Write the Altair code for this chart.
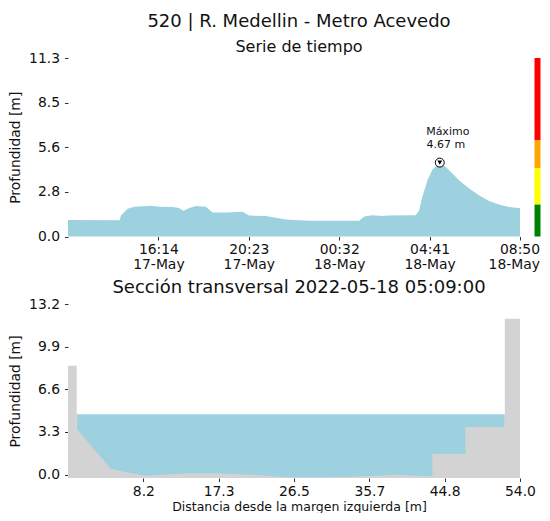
import altair as alt
import pandas as pd

# ---------------- texts ----------------
station_title = "520 | R. Medellin - Metro Acevedo"
top_title = "Serie de tiempo"
bottom_title = "Sección transversal 2022-05-18 05:09:00"
y_title = "Profundidad [m]"
x_bottom_title = "Distancia desde la margen izquierda [m]"

# ---------------- time series ----------------
times = [
    "2022-05-17T12:05:00Z", "2022-05-17T14:27:00Z", "2022-05-17T14:31:00Z", "2022-05-17T14:49:00Z",
    "2022-05-17T15:08:00Z", "2022-05-17T15:54:00Z", "2022-05-17T16:17:00Z", "2022-05-17T16:53:00Z",
    "2022-05-17T17:10:00Z", "2022-05-17T17:23:00Z", "2022-05-17T17:39:00Z", "2022-05-17T17:58:00Z",
    "2022-05-17T18:25:00Z", "2022-05-17T18:43:00Z", "2022-05-17T19:20:00Z", "2022-05-17T20:06:00Z",
    "2022-05-17T20:24:00Z", "2022-05-17T21:10:00Z", "2022-05-17T22:05:00Z", "2022-05-17T23:09:00Z",
    "2022-05-18T01:27:00Z", "2022-05-18T01:41:00Z", "2022-05-18T02:03:00Z", "2022-05-18T02:31:00Z",
    "2022-05-18T02:45:00Z", "2022-05-18T04:03:00Z", "2022-05-18T04:12:00Z", "2022-05-18T04:21:00Z",
    "2022-05-18T04:35:00Z", "2022-05-18T04:49:00Z", "2022-05-18T05:09:00Z", "2022-05-18T05:25:00Z",
    "2022-05-18T05:44:00Z", "2022-05-18T06:02:00Z", "2022-05-18T06:30:00Z", "2022-05-18T06:57:00Z",
    "2022-05-18T07:25:00Z", "2022-05-18T07:52:00Z", "2022-05-18T08:20:00Z", "2022-05-18T08:50:00Z",
]
levels = [
    1.05, 1.03, 1.33, 1.76,
    1.88, 1.95, 1.88, 1.86,
    1.80, 1.63, 1.80, 1.93,
    1.88, 1.52, 1.52, 1.56,
    1.33, 1.29, 1.08, 1.00,
    0.99, 1.27, 1.35, 1.29,
    1.33, 1.35, 1.65, 2.50,
    3.56, 4.23, 4.67, 4.40,
    3.98, 3.56, 3.03, 2.60,
    2.24, 2.03, 1.86, 1.78,
]
max_time = "2022-05-18T05:09:00Z"
max_level = 4.67
max_label = "Máximo"

time_domain = ["2022-05-17T12:05:00Z", "2022-05-18T08:50:00Z"]
time_ticks = ["2022-05-17T16:14:00Z", "2022-05-17T20:23:00Z", "2022-05-18T00:32:00Z",
              "2022-05-18T04:41:00Z", "2022-05-18T08:50:00Z"]
top_ymax = 11.28
top_yticks = [0.0, 2.82, 5.64, 8.46, 11.28]

# alert levels (colour bar)
alert_low = [0.0, 2.03, 4.32, 6.09]
alert_high = [2.03, 4.32, 6.09, 11.28]
alert_colors = ["#008000", "#ffff00", "#ffa500", "#ff0000"]

# ---------------- cross section ----------------
section_x = [-1.0, 0.06, 0.06, 4.2, 5.2, 8.3, 13.4, 17.4, 21.5, 25.5, 29.6, 35.7, 39.0, 41.8,
             43.35, 43.35, 47.35, 47.35, 52.15, 52.15, 54.0]
section_ground = [8.42, 8.42, 3.55, 0.46, 0.31, -0.08, 0.08, 0.08, 0.0, -0.21, -0.21, -0.13, 0.0, -0.10,
                  -0.13, 1.59, 1.59, 3.68, 3.68, 12.06, 12.06]
water_level = 4.67
water_start = 0.06
water_end = 52.15
section_floor = -0.26
bottom_ymax = 13.2
bottom_yticks = [0.0, 3.3, 6.6, 9.9, 13.2]
dist_domain = [-1.0, 54.0]
dist_ticks = [8.17, 17.33, 26.5, 35.67, 44.83, 54.0]

# ---------------- styling ----------------
FONT = "DejaVu Sans"
WATER = "#9dd1e0"
GROUND = "#d3d3d3"
TXT = "#111111"
W = 452

def ms(s):
    return int(pd.Timestamp(s).value // 10**6)

ts_df = pd.DataFrame({"time": times, "level": levels})
max_df = pd.DataFrame({"time": [max_time], "level": [max_level],
                       "name": [max_label], "value": [f"{max_level:.2f} m"]})
alert_df = pd.DataFrame({"lo": alert_low, "hi": alert_high, "color": alert_colors})

x_time = alt.X("time:T",
               scale=alt.Scale(type="utc", domain=[ms(t) for t in time_domain], nice=False),
               axis=alt.Axis(values=[ms(t) for t in time_ticks], title=None,
                             labelFlush=True, labelFlushOffset=19.5,
                             labelExpr="[utcFormat(datum.value, '%H:%M'), utcFormat(datum.value, '%d-%b')]",
                             labelLineHeight=15.5, labelPadding=2))
y_top = alt.Y("level:Q", scale=alt.Scale(domain=[0, top_ymax], nice=False, zero=True),
              axis=alt.Axis(values=top_yticks, format=".1f", title=y_title, titlePadding=6, labelFlush=False))

area = alt.Chart(ts_df).mark_area(color=WATER, opacity=1).encode(x=x_time, y=y_top)

cbar = alt.Chart(alert_df).mark_rect().encode(
    x=alt.value(W + 14.5), x2=alt.value(W + 20.5),
    y=alt.Y("lo:Q", scale=alt.Scale(domain=[0, top_ymax], nice=False)),
    y2="hi:Q",
    color=alt.Color("color:N", scale=None),
)

circle = alt.Chart(max_df).mark_point(shape="circle", filled=True, fill="white", stroke="black",
                                      strokeWidth=1, size=80, opacity=1).encode(x="time:T", y="level:Q")
tri = alt.Chart(max_df).mark_point(shape="triangle-down", filled=True, color="black",
                                   size=24, opacity=1).encode(x="time:T", y="level:Q")
label1 = alt.Chart(max_df).mark_text(font=FONT, fontSize=11, color=TXT, align="center",
                                     baseline="middle", dx=8, dy=-31).encode(
    x="time:T", y="level:Q", text="name:N")
label2 = alt.Chart(max_df).mark_text(font=FONT, fontSize=11, color=TXT, align="center",
                                     baseline="middle", dx=6, dy=-17.5).encode(
    x="time:T", y="level:Q", text="value:N")

top = alt.layer(area, cbar, circle, tri, label1, label2).properties(
    width=W, height=178.5,
    title=alt.TitleParams(text=station_title, subtitle=top_title, fontSize=18, subtitleFontSize=16,
                          font=FONT, subtitleFont=FONT, color=TXT, subtitleColor=TXT, dx=5,
                          anchor="middle", frame="group", subtitlePadding=8.5, offset=-4,
                          fontWeight="normal"),
)

# bottom chart
ground_df = pd.DataFrame({"dist": section_x, "ground": section_ground,
                          "floor": [section_floor] * len(section_x)})
water_df = pd.DataFrame({"x0": [water_start], "x1": [water_end],
                         "y0": [section_floor], "y1": [water_level]})

x_dist = alt.X("dist:Q", scale=alt.Scale(domain=dist_domain, nice=False, zero=False),
               axis=alt.Axis(values=dist_ticks, format=".1f", title=x_bottom_title, labelFlush=False,
                             titleFontSize=12.5, titlePadding=2, labelPadding=3, titleX=W / 2 + 5))
y_bot = alt.Y("ground:Q", scale=alt.Scale(domain=[section_floor, bottom_ymax], nice=False, zero=False),
              axis=alt.Axis(values=bottom_yticks, format=".1f", title=y_title, titlePadding=6, labelFlush=False))

water = alt.Chart(water_df).mark_rect(color=WATER).encode(
    x=alt.X("x0:Q", scale=alt.Scale(domain=dist_domain, nice=False, zero=False)), x2="x1:Q",
    y=alt.Y("y0:Q", scale=alt.Scale(domain=[section_floor, bottom_ymax], nice=False, zero=False)), y2="y1:Q")
ground = alt.Chart(ground_df).mark_area(color=GROUND, opacity=1).encode(x=x_dist, y=y_bot, y2="floor:Q")

bottom = alt.layer(water, ground).properties(
    width=W, height=174,
    title=alt.TitleParams(text=bottom_title, fontSize=18, font=FONT, color=TXT, anchor="middle",
                          frame="group", offset=0, dx=5, fontWeight="normal"),
)

chart = alt.vconcat(top, bottom, spacing=7).properties(
    padding={"left": 0, "top": 4, "right": 0, "bottom": 0}
).configure_view(stroke=None).configure_axis(
    domain=False, grid=False, ticks=True, tickSize=3.5, tickColor="#333333", tickWidth=1,
    labelFont=FONT, labelFontSize=13.9, labelColor=TXT, labelPadding=5,
    titleFont=FONT, titleFontSize=13.9, titleColor=TXT, titleFontWeight="normal",
)

chart.save("out.html", embed_options={"renderer": "svg", "actions": False})
